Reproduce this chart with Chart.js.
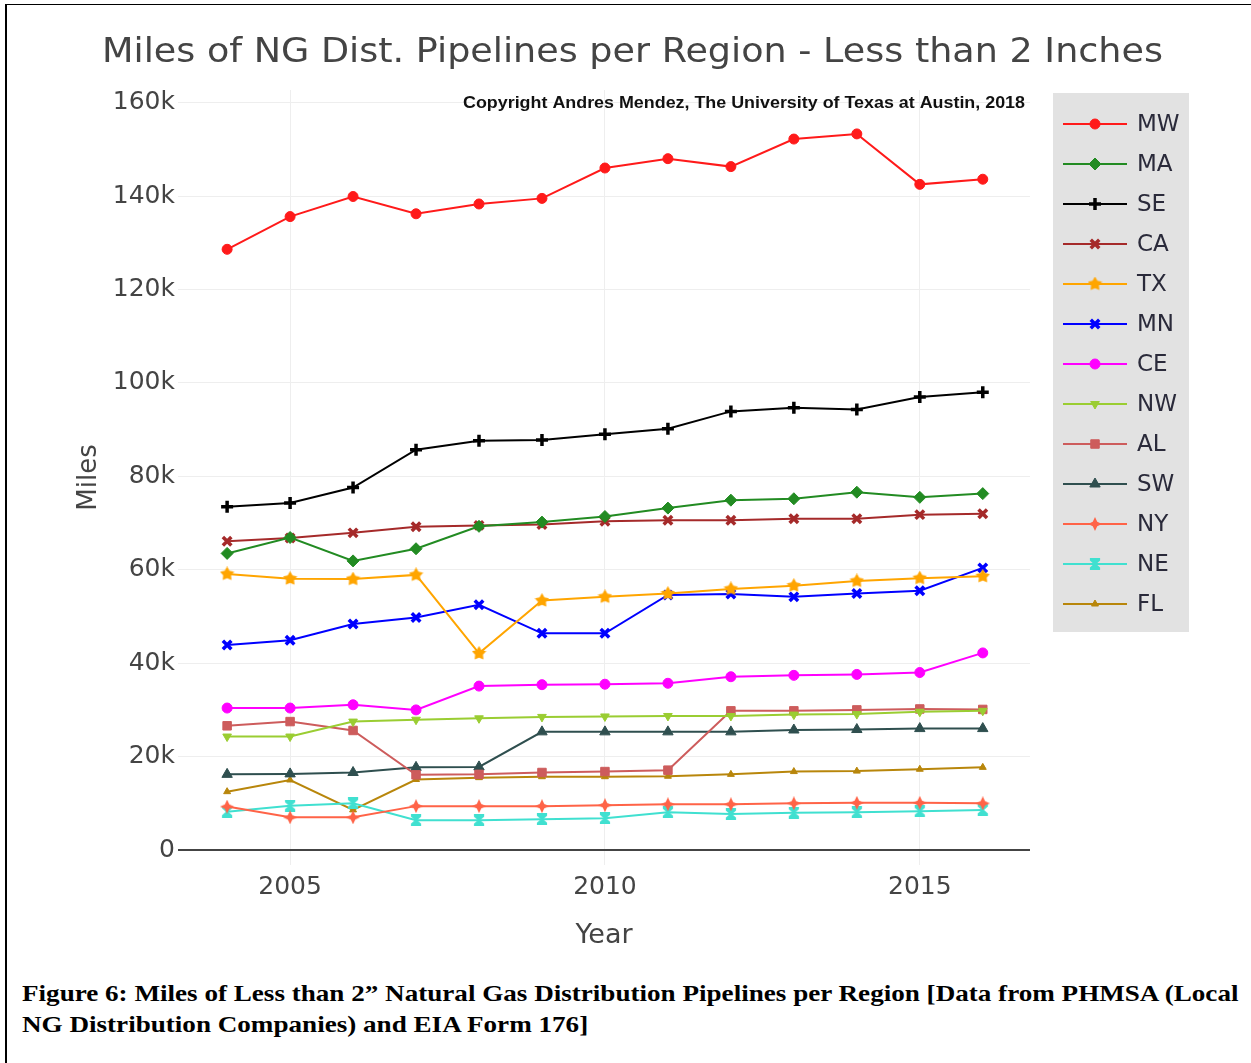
<!DOCTYPE html>
<html>
<head>
<meta charset="utf-8">
<script src="https://cdn.jsdelivr.net/npm/chart.js@4.4.1/dist/chart.umd.min.js"></script>
<style>
  body { margin: 0; background: #fff; width: 1251px; height: 1063px; position: relative; overflow: hidden; }
  #frame { position: absolute; left: 5px; top: 4px; width: 1260px; height: 1070px; border-left: 2px solid #000; border-top: 1.5px solid #000; }
  #wrap { position: absolute; left: 0; top: 0; width: 1251px; height: 960px; }
  .cap { position: absolute; left: 22px; font: bold 23px "Liberation Serif", serif; line-height: 31px; color: #000; white-space: nowrap; transform-origin: 0 0; }
</style>
</head>
<body>
<div id="frame"></div>
<div id="wrap"><canvas id="chart" width="1251" height="960"></canvas></div>
<div class="cap" id="cap1" style="top:978px">Figure 6: Miles of Less than 2” Natural Gas Distribution Pipelines per Region [Data from PHMSA (Local</div>
<div class="cap" id="cap2" style="top:1009px">NG Distribution Companies) and EIA Form 176]</div>
<script>
const years = [2004, 2005, 2006, 2007, 2008, 2009, 2010, 2011, 2012, 2013, 2014, 2015, 2016];

const MW = [128600, 135600, 139900, 136200, 138300, 139500, 146000, 148000, 146300, 152200, 153300, 142500, 143600];
const MA = [63500, 66900, 61900, 64500, 69300, 70200, 71400, 73200, 74900, 75200, 76600, 75500, 76300];
const SE = [73500, 74300, 77600, 85700, 87600, 87800, 89000, 90200, 93900, 94700, 94300, 97000, 98000];
const CA = [66100, 66800, 67900, 69200, 69500, 69700, 70400, 70600, 70600, 70900, 70900, 71800, 72000];
const TX = [59100, 58100, 58000, 58900, 42100, 53400, 54200, 54900, 55900, 56600, 57600, 58200, 58600];
const MN = [43900, 44900, 48400, 49800, 52500, 46400, 46400, 54600, 54800, 54200, 54900, 55500, 60400];
const CE = [30400, 30400, 31100, 30000, 35100, 35400, 35500, 35700, 37100, 37400, 37600, 38000, 42200];
const NW = [24300, 24300, 27500, 27900, 28200, 28500, 28600, 28700, 28700, 29000, 29100, 29600, 29800];
const AL = [26600, 27500, 25600, 16100, 16200, 16600, 16800, 17100, 29800, 29800, 30000, 30200, 30100];
const SW = [16200, 16300, 16600, 17700, 17800, 25300, 25300, 25300, 25300, 25700, 25800, 26000, 26000];
const NY = [9300, 7000, 7000, 9400, 9400, 9400, 9600, 9800, 9800, 10000, 10100, 10100, 10000];
const NE = [8200, 9500, 10000, 6400, 6400, 6600, 6800, 8100, 7700, 8000, 8100, 8300, 8600];
const FL = [12500, 15000, 8600, 15100, 15500, 15700, 15700, 15800, 16200, 16800, 16900, 17300, 17700];

const yTicks = [0, 20000, 40000, 60000, 80000, 100000, 120000, 140000, 160000];
const xTicks = [2005, 2010, 2015];

const FONT = "DejaVu Sans";

// the caption in the source is stretched sideways, so stretch ours to the same width
const cap1 = document.getElementById("cap1");
const capScale = 1216 / cap1.scrollWidth;
document.querySelectorAll(".cap").forEach(el => { el.style.transform = "scaleX(" + capScale + ")"; });

// small canvases for marker shapes Chart.js doesn't have
function marker(color, size, draw) {
  const c = document.createElement("canvas");
  c.width = size; c.height = size;
  const g = c.getContext("2d");
  g.fillStyle = color;
  g.translate(size / 2, size / 2);
  draw(g, size / 2);
  return c;
}
function star(points, inner) {
  return (g, r) => {
    g.beginPath();
    for (let i = 0; i < points * 2; i++) {
      const a = -Math.PI / 2 + i * Math.PI / points;
      const rr = i % 2 ? r * inner : r;
      g.lineTo(Math.cos(a) * rr, Math.sin(a) * rr);
    }
    g.closePath(); g.fill();
  };
}
function hourglass(g, r) {
  const w = r * 0.85;
  g.beginPath();
  g.moveTo(-w, -r); g.lineTo(w, -r); g.lineTo(w, -r + 2.5); g.lineTo(1.2, 0);
  g.lineTo(w, r - 2.5); g.lineTo(w, r); g.lineTo(-w, r); g.lineTo(-w, r - 2.5);
  g.lineTo(-1.2, 0); g.lineTo(-w, -r + 2.5);
  g.closePath(); g.fill();
}

const series = [
  { name: "MW", data: MW, color: "#ff1a1a", style: "circle", r: 5, bw: 1 },
  { name: "MA", data: MA, color: "#228b22", style: "rectRot", r: 6, bw: 1 },
  { name: "SE", data: SE, color: "#000000", style: "cross", r: 6, bw: 3.5 },
  { name: "CA", data: CA, color: "#a52a2a", style: "crossRot", r: 6, bw: 3.5 },
  { name: "TX", data: TX, color: "#ffa500", style: marker("#ffa500", 15, star(5, 0.55)), r: 7, bw: 0 },
  { name: "MN", data: MN, color: "#0000ff", style: "crossRot", r: 6, bw: 3.5 },
  { name: "CE", data: CE, color: "#ff00ff", style: "circle", r: 5, bw: 1 },
  { name: "NW", data: NW, color: "#9acd32", style: "triangle", r: 5, bw: 1, rot: 180 },
  { name: "AL", data: AL, color: "#cd5c5c", style: "rect", r: 6, bw: 1 },
  { name: "SW", data: SW, color: "#2f4f4f", style: "triangle", r: 6, bw: 1 },
  { name: "NY", data: NY, color: "#ff6347", style: marker("#ff6347", 14, star(4, 0.45)), r: 7, bw: 0 },
  { name: "NE", data: NE, color: "#40e0d0", style: marker("#40e0d0", 12, hourglass), r: 6, bw: 0 },
  { name: "FL", data: FL, color: "#b8860b", style: "triangle", r: 4, bw: 1 }
];

const datasets = series.map(s => ({
  label: s.name,
  data: years.map((x, i) => ({ x, y: s.data[i] })),
  borderColor: s.color,
  backgroundColor: s.color,
  borderWidth: 2,
  pointStyle: s.style,
  pointRadius: s.r,
  pointBorderWidth: s.bw,
  pointRotation: s.rot || 0,
  pointBackgroundColor: s.color,
  pointBorderColor: s.color,
  tension: 0
}));

// text drawn squeezed/stretched to a given width, like the source image
function fitText(ctx, text, x, y, width, align) {
  const w = ctx.measureText(text).width;
  const k = width / w;
  ctx.save();
  ctx.translate(x, y);
  ctx.scale(k, 1);
  ctx.textAlign = align;
  ctx.fillText(text, 0, 0);
  ctx.restore();
}

const texts = {
  id: "texts",
  afterDraw(chart) {
    const ctx = chart.ctx;
    ctx.save();
    ctx.textBaseline = "middle";
    ctx.fillStyle = "#444";
    ctx.font = "33px '" + FONT + "'";
    fitText(ctx, "Miles of NG Dist. Pipelines per Region - Less than 2 Inches", 632.5, 53, 1061, "center");
    ctx.fillStyle = "#111";
    ctx.font = "bold 16px 'Liberation Sans'";
    fitText(ctx, "Copyright Andres Mendez, The University of Texas at Austin, 2018", 1025, 104, 562, "right");
    ctx.restore();
  }
};

const legendBox = {
  id: "legendBox",
  afterDraw(chart) {
    const ctx = chart.ctx;
    ctx.save();
    ctx.fillStyle = "#e2e2e2";
    ctx.fillRect(1053, 93, 136, 539);
    chart.data.datasets.forEach((ds, i) => {
      const y = 124 + i * 40;
      ctx.strokeStyle = ds.borderColor;
      ctx.fillStyle = ds.borderColor;
      ctx.lineWidth = 2;
      ctx.beginPath(); ctx.moveTo(1063, y); ctx.lineTo(1127, y); ctx.stroke();
      ctx.lineWidth = ds.pointBorderWidth;
      Chart.helpers.drawPoint(ctx, {
        pointStyle: ds.pointStyle, radius: ds.pointRadius,
        rotation: ds.pointRotation, borderWidth: ds.pointBorderWidth
      }, 1095, y);
      ctx.fillStyle = "#2a2a3a";
      ctx.font = "23px '" + FONT + "'";
      ctx.textAlign = "left";
      ctx.textBaseline = "middle";
      ctx.fillText(ds.label, 1137, y + 1);
    });
    ctx.restore();
  }
};

new Chart(document.getElementById("chart"), {
  type: "line",
  data: { datasets },
  plugins: [texts, legendBox],
  options: {
    responsive: false,
    animation: false,
    layout: { padding: { left: 14, right: 0, top: 90, bottom: 0 } },
    plugins: {
      legend: { display: false },
      tooltip: { enabled: false },
      title: { display: false }
    },
    scales: {
      x: {
        type: "linear",
        min: 2003.22,
        max: 2016.75,
        afterBuildTicks: s => { s.ticks = xTicks.map(v => ({ value: v })); },
        afterFit: s => { s.height = 95; },
        grid: { color: "#eee", drawTicks: false },
        border: { display: false },
        ticks: { padding: 7, color: "#444", font: { family: FONT, size: 25 }, callback: v => String(v) },
        title: { display: true, text: "Year", color: "#444", font: { family: FONT, size: 27 }, padding: { top: 0, bottom: 8 } }
      },
      y: {
        min: -3200,
        max: 162700,
        afterBuildTicks: s => { s.ticks = yTicks.map(v => ({ value: v })); },
        afterFit: s => { s.width = 164; },
        grid: {
          color: c => c.tick && c.tick.value === 0 ? "#444" : "#eee",
          lineWidth: c => c.tick && c.tick.value === 0 ? 2 : 1,
          drawTicks: false
        },
        border: { display: false },
        ticks: { padding: 3, color: "#444", font: { family: FONT, size: 25 }, callback: v => v === 0 ? "0" : (v / 1000) + "k" },
        title: { display: true, text: "Miles", color: "#444", font: { family: FONT, size: 26 }, padding: { top: 60, bottom: 0 } }
      },
      spacer: {
        axis: "y",
        position: "right",
        afterFit: s => { s.width = 221; },
        grid: { display: false },
        border: { display: false },
        ticks: { display: false }
      }
    }
  }
});
</script>
</body>
</html>
